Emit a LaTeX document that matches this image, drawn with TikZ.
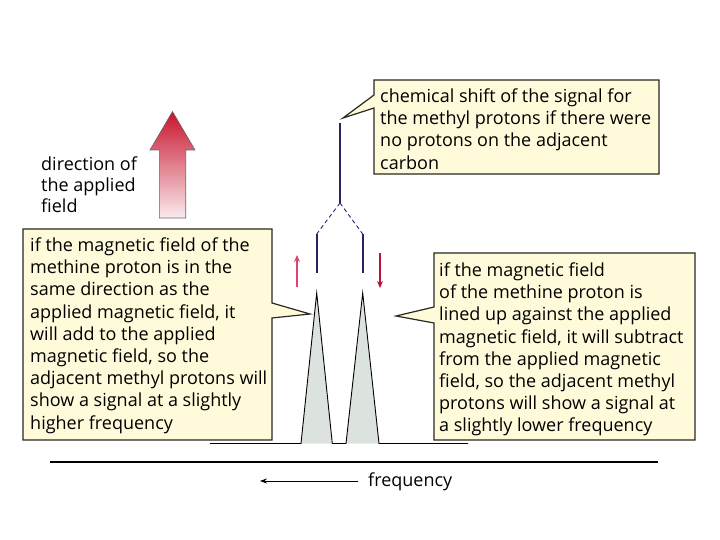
\documentclass[tikz,border=0pt]{standalone}
\usepackage{fontspec}
\setmainfont{Open Sans}
\usetikzlibrary{arrows.meta}
\definecolor{boxfill}{RGB}{255,251,218}
\definecolor{boxline}{RGB}{40,40,30}
\definecolor{peakfill}{RGB}{220,227,222}
\definecolor{lineblue}{RGB}{50,30,100}
\definecolor{redarrow}{RGB}{185,20,60}
\definecolor{pinkarrow}{RGB}{220,70,110}
\definecolor{gradtop}{RGB}{200,20,45}
\definecolor{gradbot}{RGB}{250,234,238}
\begin{document}
\begin{tikzpicture}[x=1pt,y=-1pt,
  callout/.style={fill=boxfill,draw=boxline,line width=1.2pt,line join=miter},
  boxtext/.style={anchor=north west,align=left,inner sep=0pt,font=\fontsize{18}{22.2}\selectfont},
  signal/.style={draw=lineblue,line width=2pt},
  splitline/.style={draw=lineblue,line width=0.9pt,dashed,dash pattern=on 4pt off 3pt},
  peak/.style={fill=peakfill},
  spinarrow/.style={-{Stealth[length=7pt,width=6pt]},line width=1.1pt}]
\useasboundingbox (0,0) rectangle (720,540);

% applied field arrow
\shadedraw[top color=gradtop,bottom color=gradbot,draw=black!60,line width=0.6pt]
  (172.5,111.5) -- (195,150) -- (185.7,150) -- (185.7,218) -- (159.3,218) -- (159.3,150) -- (150,150) -- cycle;
\node[boxtext,font=\fontsize{18}{21}\selectfont] (fieldlabel) at (41,157) {direction of\\the applied\\field};

% spectrum peaks
\coordinate (p1) at (316.7,293);
\coordinate (p2) at (362.7,293);
\fill[peak] (301,443.5) -- (p1) -- (332.3,443.5) -- cycle;
\fill[peak] (346,443.5) -- (p2) -- (379,443.5) -- cycle;
\draw[line width=0.9pt,line join=miter] (210,443.5) -- (301,443.5) -- (p1) -- (332.3,443.5) -- (346,443.5) -- (p2) -- (379,443.5) -- (468,443.5);

% signal lines
\coordinate (stop) at (340,123);
\coordinate (sbot) at (340,203);
\coordinate (l1top) at (316.7,234);
\coordinate (l1bot) at (316.7,273);
\coordinate (l2top) at (362.7,234);
\coordinate (l2bot) at (362.7,273);
\draw[signal] (stop) -- (sbot);
\draw[splitline] (sbot) -- (l1top);
\draw[splitline] (sbot) -- (l2top);
\draw[signal] (l1top) -- (l1bot);
\draw[signal] (l2top) -- (l2bot);

% spin arrows
\coordinate (ua1) at (297,287);
\coordinate (ua2) at (297,255);
\coordinate (da1) at (380,253);
\coordinate (da2) at (380,288);
\draw[spinarrow,pinkarrow] (ua1) -- (ua2);
\draw[spinarrow,redarrow] (da1) -- (da2);

% callouts
\coordinate (tipTR) at (343,118);
\draw[callout] (374,80) -- (659,80) -- (659,174) -- (374,174) -- (374,108) -- (tipTR) -- (374,95) -- cycle;
\node[boxtext] (trtext) at (380,88.5) {chemical shift of the signal for\\the methyl protons if there were\\no protons on the adjacent\\carbon};

\coordinate (tipL) at (310,314);
\draw[callout] (23,229) -- (272,229) -- (272,303) -- (tipL) -- (272,318) -- (272,440) -- (23,440) -- cycle;
\node[boxtext] (ltext) at (30,237.5) {if the magnetic field of the\\methine proton is in the\\same direction as the\\applied magnetic field, it\\will add to the applied\\magnetic field, so the\\adjacent methyl protons will\\show a signal at a slightly\\higher frequency};

\coordinate (tipR) at (396,316);
\draw[callout] (434,253) -- (695,253) -- (695,440) -- (434,440) -- (434,323) -- (tipR) -- (434,307) -- cycle;
\node[boxtext] (rtext) at (439,262.5) {if the magnetic field\\of the methine proton is\\lined up against the applied\\magnetic field, it will subtract\\from the applied magnetic\\field, so the adjacent methyl\\protons will show a signal at\\a slightly lower frequency};

% axis
\draw[line width=1.2pt] (50,462) -- (658,462);
\node[anchor=west,inner sep=0pt,font=\fontsize{18}{22}\selectfont] (freq) at (368,482) {frequency};
\coordinate (fa) at (358,481);
\coordinate (fb) at (260,481);
\draw[-{Stealth[length=7pt,width=5pt]},line width=0.7pt] (fa) -- (fb);
\end{tikzpicture}
\end{document}
